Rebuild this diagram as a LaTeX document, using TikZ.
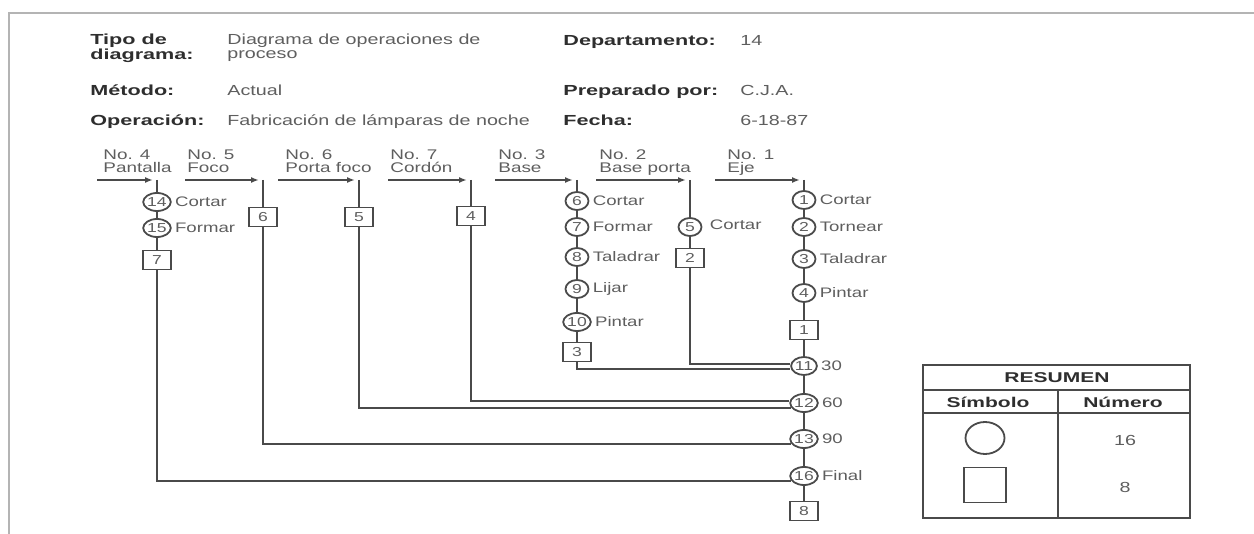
\documentclass[tikz,border=0pt]{standalone}
\usepackage{fontspec}
\setmainfont{Liberation Sans}[FakeStretch=1.35]
\newfontfamily\headfont{Liberation Sans}[FakeStretch=1.48]
\usepackage{xcolor}
\usetikzlibrary{arrows.meta, positioning, shapes.geometric}
\definecolor{ink}{HTML}{4A4A4A}
\definecolor{txt}{HTML}{5E5E5E}
\definecolor{hdtxt}{HTML}{2E2E2E}
\definecolor{framegray}{HTML}{B4B4B4}

\begin{document}
\begin{tikzpicture}[x=0.5pt, y=-0.5pt,
  op/.style={draw=ink, line width=0.9pt, ellipse, inner sep=0pt, fill=white,
             minimum width=11.5pt, minimum height=9pt,
             font=\fontsize{6.5}{7}\selectfont, text=txt},
  insp/.style={draw=ink, line width=0.9pt, inner sep=0pt, fill=white,
               minimum width=14pt, minimum height=9.5pt,
               font=\fontsize{6.5}{7}\selectfont, text=txt},
  lbl/.style={font=\fontsize{7}{6.5}\selectfont, text=txt, align=left, inner sep=0pt},
  oplbl/.style={font=\fontsize{6.9}{8}\selectfont, text=txt, inner sep=0.5pt},
  arr/.style={-{Latex[length=4pt, width=3pt]}, line width=0.9pt, color=ink},
  ln/.style={line width=0.9pt, color=ink},
  hd/.style={font=\headfont\bfseries\fontsize{7.3}{7.5}\selectfont, text=hdtxt,
             anchor=base west, align=left, inner sep=0pt},
  val/.style={font=\fontsize{7.3}{7}\selectfont, text=txt,
              anchor=base west, align=left, inner sep=0pt},
  sumhd/.style={font=\headfont\bfseries\fontsize{7.1}{8}\selectfont, text=hdtxt, inner sep=0pt},
]
\useasboundingbox (0,0) rectangle (1254,534);
\draw[framegray, line width=1.2pt] (9,534) -- (9,13) -- (1254,13);

% encabezado
\node[hd] (k1) at (90,60) {Tipo de\\diagrama:};
\node[val] (v1) at (227,59) {Diagrama de operaciones de\\proceso};
\node[hd] (k2) at (90,96) {Método:};
\node[val] (v2) at (227,96) {Actual};
\node[hd] (k3) at (90,126) {Operación:};
\node[val] (v3) at (227,126) {Fabricación de lámparas de noche};
\node[hd] (k4) at (563,46) {Departamento:};
\node[val] (v4) at (740,46) {14};
\node[hd] (k5) at (563,96) {Preparado por:};
\node[val] (v5) at (740,96) {C.J.A.};
\node[hd] (k6) at (563,126) {Fecha:};
\node[val] (v6) at (740,126) {6-18-87};

% piezas que entran
\foreach \n/\x/\s/\tx/\nm in {4/157/97/103/Pantalla, 5/263/185/187/Foco,
    6/359/278/285/Porta foco, 7/471/388/390/Cordón, 3/577/495/498/Base,
    2/690/596/599/Base porta, 1/804/715/727/Eje} {
  \coordinate (top\n) at (\x,180);
  \coordinate (in\n) at (\s,180);
  \node[lbl, anchor=base west] (t\n) at (\tx,173) {No. \n\\\nm};
  \draw[arr] (in\n) -- ([xshift=-2pt]top\n);
}

% No. 1 eje (linea principal)
\node[op] (o1) at (804,200) {1};
\node[oplbl, right=1pt of o1] (l1) {Cortar};
\node[op] (o2) at (804,227) {2};
\node[oplbl, right=1pt of o2] (l2) {Tornear};
\node[op] (o3) at (804,259) {3};
\node[oplbl, right=1pt of o3] (l3) {Taladrar};
\node[op] (o4) at (804,293) {4};
\node[oplbl, right=1pt of o4] (l4) {Pintar};
\node[insp] (b1) at (804,330) {1};
\node[op] (o11) at (804,366) {11};
\node[oplbl, right=1pt of o11] (l11) {30};
\node[op] (o12) at (804,403) {12};
\node[oplbl, right=1pt of o12] (l12) {60};
\node[op] (o13) at (804,439) {13};
\node[oplbl, right=1pt of o13] (l13) {90};
\node[op] (o16) at (804,476) {16};
\node[oplbl, right=1pt of o16] (l16) {Final};
\node[insp] (b8) at (804,511) {8};
\draw[ln] (top1) -- (o1) -- (o2) -- (o3) -- (o4) -- (b1) -- (o11) -- (o12)
  -- (o13) -- (o16) -- (b8);

% No. 2 base porta
\node[op] (o5) at (690,227) {5};
\node[oplbl, right=3pt of o5, yshift=1pt] (l5) {Cortar};
\node[insp] (b2) at (690,258) {2};
\draw[ln] (top2) -- (o5) -- (b2);
\draw[ln] (b2) |- ([yshift=1pt]o11.west);

% No. 3 base
\node[op] (o6) at (577,201) {6};
\node[oplbl, right=1pt of o6] (l6) {Cortar};
\node[op] (o7) at (577,227) {7};
\node[oplbl, right=1pt of o7] (l7) {Formar};
\node[op] (o8) at (577,257) {8};
\node[oplbl, right=1pt of o8] (l8) {Taladrar};
\node[op] (o9) at (577,289) {9};
\node[oplbl, right=1pt of o9] (l9) {Lijar};
\node[op] (o10) at (577,322) {10};
\node[oplbl, right=1pt of o10] (l10) {Pintar};
\node[insp] (b3) at (577,352) {3};
\draw[ln] (top3) -- (o6) -- (o7) -- (o8) -- (o9) -- (o10) -- (b3);
\draw[ln] (b3) |- ([yshift=-1.5pt]o11.west);

% No. 7 cordon, No. 6 porta foco, No. 5 foco
\node[insp] (b4) at (471,216) {4};
\draw[ln] (top7) -- (b4);
\draw[ln] (b4) |- ([yshift=1pt]o12.west);
\node[insp] (b5) at (359,217) {5};
\draw[ln] (top6) -- (b5);
\draw[ln] (b5) |- ([yshift=-2.5pt, xshift=0.8pt]o12.west);
\node[insp] (b6) at (263,217) {6};
\draw[ln] (top5) -- (b6);
\draw[ln] (b6) |- ([yshift=-2.5pt, xshift=0.8pt]o13.west);

% No. 4 pantalla
\node[op] (o14) at (157,202) {14};
\node[oplbl, right=1pt of o14] (l14) {Cortar};
\node[op] (o15) at (157,228) {15};
\node[oplbl, right=1pt of o15] (l15) {Formar};
\node[insp] (b7) at (157,260) {7};
\draw[ln] (top4) -- (o14) -- (o15) -- (b7);
\draw[ln] (b7) |- ([yshift=-2.5pt, xshift=0.8pt]o16.west);

% resumen
\draw[ln] (923,365) rectangle (1190,518);
\draw[ln] (923,390) -- (1190,390);
\draw[ln] (923,413) -- (1190,413);
\draw[ln] (1058,390) -- (1058,518);
\node[sumhd] (res) at (1057,378) {RESUMEN};
\node[sumhd] (sym) at (988,402) {Símbolo};
\node[sumhd] (num) at (1123,402) {Número};
\node[draw=ink, line width=0.9pt, ellipse, minimum width=19.5pt, minimum height=16pt]
  (sop) at (985,438) {};
\node[draw=ink, line width=0.9pt, minimum width=21pt, minimum height=17.5pt]
  (sinsp) at (985,485) {};
\node[val, anchor=center] (n16) at (1125,440) {16};
\node[val, anchor=center] (n8) at (1125,487) {8};
\end{tikzpicture}
\end{document}
